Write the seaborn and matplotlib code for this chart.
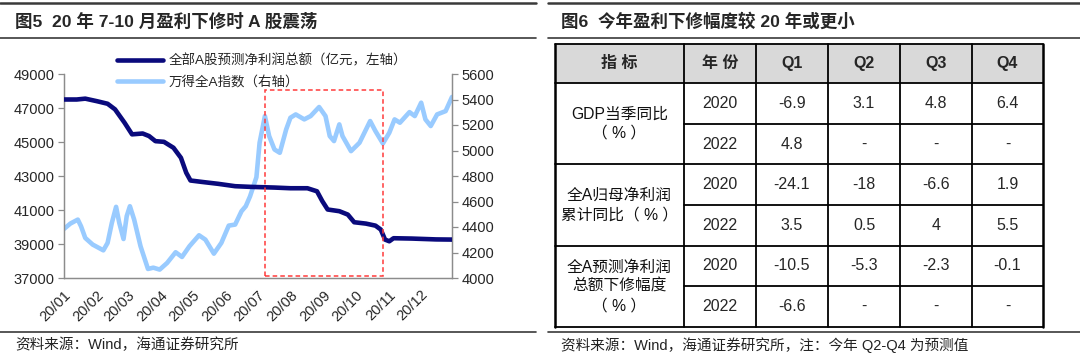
import matplotlib
matplotlib.use('Agg')
import matplotlib.pyplot as plt
import matplotlib.dates as mdates
from matplotlib.patches import Rectangle
from matplotlib.lines import Line2D
import seaborn as sns
import pandas as pd

# 全部A股预测净利润总额（亿元）
profit_dates = ['2020-01-01', '2020-01-13', '2020-01-21', '2020-02-01', '2020-02-11', '2020-02-18',
                '2020-02-27', '2020-03-05', '2020-03-15', '2020-03-21', '2020-03-27', '2020-04-04',
                '2020-04-13', '2020-04-20', '2020-04-25', '2020-04-29', '2020-05-10', '2020-05-25',
                '2020-06-10', '2020-06-25', '2020-07-17', '2020-08-01', '2020-08-17', '2020-08-26',
                '2020-08-31', '2020-09-05', '2020-09-16', '2020-09-24', '2020-09-30', '2020-10-11',
                '2020-10-20', '2020-10-25', '2020-10-29', '2020-11-02', '2020-11-06', '2020-11-23',
                '2020-12-16', '2020-12-31']
profit_values = [47500, 47500, 47550, 47400, 47250, 46920,
                 46130, 45450, 45500, 45350, 45050, 45010,
                 44660, 44070, 43190, 42735, 42650, 42540,
                 42400, 42360, 42320, 42280, 42280, 42100,
                 41520, 41030, 40930, 40730, 40280, 40200,
                 40080, 39850, 39260, 39160, 39340, 39320,
                 39270, 39260]

# 万得全A指数
index_dates = ['2020-01-01', '2020-01-07', '2020-01-14', '2020-01-17', '2020-01-21', '2020-01-28',
               '2020-02-07', '2020-02-11', '2020-02-15', '2020-02-19', '2020-02-22', '2020-02-26',
               '2020-02-29', '2020-03-03', '2020-03-07', '2020-03-13', '2020-03-20', '2020-03-25',
               '2020-03-31', '2020-04-07', '2020-04-15', '2020-04-21', '2020-04-28', '2020-05-07',
               '2020-05-13', '2020-05-21', '2020-05-28', '2020-06-04', '2020-06-10', '2020-06-16',
               '2020-06-20', '2020-06-24', '2020-06-30', '2020-07-03', '2020-07-08', '2020-07-12',
               '2020-07-17', '2020-07-22', '2020-07-28', '2020-08-01', '2020-08-06', '2020-08-14',
               '2020-08-20', '2020-08-28', '2020-09-03', '2020-09-07', '2020-09-11', '2020-09-16',
               '2020-09-19', '2020-09-27', '2020-10-05', '2020-10-15', '2020-10-20', '2020-10-27',
               '2020-11-02', '2020-11-07', '2020-11-12', '2020-11-21', '2020-11-26', '2020-12-02',
               '2020-12-06', '2020-12-11', '2020-12-17', '2020-12-25', '2020-12-31']
index_values = [4385, 4427, 4458, 4406, 4314, 4262,
                4217, 4275, 4432, 4558, 4432, 4306,
                4485, 4563, 4458, 4249, 4071, 4081,
                4066, 4118, 4202, 4165, 4249, 4335,
                4301, 4191, 4275, 4411, 4419, 4524,
                4563, 4640, 4790, 5061, 5270, 5113,
                5008, 4982, 5165, 5257, 5283, 5244,
                5270, 5341, 5270, 5113, 5074, 5205,
                5113, 4995, 5061, 5231, 5152, 5055,
                5139, 5244, 5218, 5301, 5270, 5375,
                5244, 5192, 5283, 5309, 5420]

# 表格
table_header = ['指 标', '年 份', 'Q1', 'Q2', 'Q3', 'Q4']
table_groups = ['GDP当季同比\n（ % ）', '全A归母净利润\n累计同比（ % ）', '全A预测净利润\n总额下修幅度\n（ % ）']
table_years = ['2020', '2022']
gdp_2020 = ['-6.9', '3.1', '4.8', '6.4']
gdp_2022 = ['4.8', '-', '-', '-']
np_2020 = ['-24.1', '-18', '-6.6', '1.9']
np_2022 = ['3.5', '0.5', '4', '5.5']
rev_2020 = ['-10.5', '-5.3', '-2.3', '-0.1']
rev_2022 = ['-6.6', '-', '-', '-']

sns.set_style('white')
plt.rcParams['font.family'] = ['Liberation Sans', 'Noto Sans CJK SC']

df_profit = pd.DataFrame({'date': pd.to_datetime(profit_dates), 'value': profit_values})
df_index = pd.DataFrame({'date': pd.to_datetime(index_dates), 'value': index_values})

fig = plt.figure(figsize=(10.8, 3.56), dpi=100)
W, H = 1080, 356
ax = fig.add_axes([64 / W, 1 - 278 / H, 388 / W, 204 / H])
ax2 = ax.twinx()

navy = '#0a0a7c'
light = '#99cbff'
sns.lineplot(data=df_profit, x='date', y='value', ax=ax, color=navy, lw=3.3,
             solid_capstyle='round', solid_joinstyle='round', zorder=3)
sns.lineplot(data=df_index, x='date', y='value', ax=ax2, color=light, lw=3.3,
             solid_capstyle='round', solid_joinstyle='round', zorder=2)
ax.set_zorder(ax2.get_zorder() + 1)
ax.patch.set_visible(False)

ax.set_xlim(pd.Timestamp('2020-01-01'), pd.Timestamp('2020-12-31'))
ax.set_ylim(37000, 49000)
ax.set_yticks(range(37000, 49001, 2000))
ax2.set_ylim(4000, 5600)
ax2.set_yticks(range(4000, 5601, 200))
ax.xaxis.set_major_locator(mdates.MonthLocator())
ax.xaxis.set_major_formatter(mdates.DateFormatter('%y/%m'))
for a in (ax, ax2):
    a.set_xlabel('')
    a.set_ylabel('')
    a.spines['top'].set_visible(False)
    for s in ('left', 'right', 'bottom'):
        a.spines[s].set_color('#8c8c8c')
        a.spines[s].set_linewidth(0.9)
    a.tick_params(axis='both', direction='out', length=4, width=0.9, color='#8c8c8c',
                  labelsize=10.5, pad=3)
for lab in ax.get_xticklabels():
    lab.set_rotation(45)
    lab.set_ha('right')
    lab.set_rotation_mode('anchor')

# 红色虚线框
x0 = mdates.date2num(pd.Timestamp('2020-07-08'))
x1 = mdates.date2num(pd.Timestamp('2020-10-27'))
ax.add_patch(Rectangle((x0, 37100), x1 - x0, 48050 - 37100, fill=False,
                       edgecolor='#ff3b3b', lw=1.1, ls=(0, (3, 2)), zorder=5, clip_on=False))

handles = [Line2D([], [], color=navy, lw=3.3), Line2D([], [], color=light, lw=3.3)]
leg = ax.legend(handles, ['全部A股预测净利润总额（亿元，左轴）', '万得全A指数（右轴）'],
                loc='upper center', bbox_to_anchor=(0.51, 1.155), frameon=False,
                fontsize=9.7, handlelength=3.4, handletextpad=0.4, labelspacing=0.55)

# 装饰：标题、横线、来源、表格
deco = fig.add_axes([0, 0, 1, 1])
deco.set_xlim(0, W)
deco.set_ylim(H, 0)
deco.axis('off')
deco.patch.set_visible(False)

for (xa, xb) in ((0, 536), (548, 1080)):
    deco.plot([xa, xb], [3, 3], color='#3a3a3a', lw=1.8)
    deco.plot([xa, xb], [38, 38], color='#3a3a3a', lw=1.2)
    deco.plot([xa, xb], [332, 332], color='#3a3a3a', lw=1.2)

deco.text(15, 21, '图5  20 年 7-10 月盈利下修时 A 股震荡', fontsize=12.6, fontweight='bold',
          va='center', ha='left')
deco.text(561, 21, '图6  今年盈利下修幅度较 20 年或更小', fontsize=12.6, fontweight='bold',
          va='center', ha='left')
deco.text(15, 345, '资料来源：Wind，海通证券研究所', fontsize=10.5, va='center', ha='left',
          color='#222222')
deco.text(561, 345, '资料来源：Wind，海通证券研究所，注：今年 Q2-Q4 为预测值', fontsize=10.5,
          va='center', ha='left', color='#222222')

col_x = [555, 684, 756, 828, 900, 972, 1043]
row_y = [44.3, 83.3, 124.3, 164.3, 205, 246, 286, 326.7]

deco.add_patch(Rectangle((col_x[0], row_y[0]), col_x[-1] - col_x[0], row_y[1] - row_y[0],
                         facecolor='#d9d9d9', edgecolor='none', zorder=1))
# 横线
for i, y in enumerate(row_y):
    if i in (2, 4, 6):
        deco.plot([col_x[1], col_x[-1]], [y, y], color='black', lw=1.3, zorder=3)
    else:
        deco.plot([col_x[0], col_x[-1]], [y, y], color='black', lw=1.3, zorder=3)
# 竖线
for j, x in enumerate(col_x):
    lw = 1.8 if j in (0, len(col_x) - 1) else 1.3
    deco.plot([x, x], [row_y[0], row_y[-1]], color='black', lw=lw, zorder=3)

cx = [(col_x[j] + col_x[j + 1]) / 2 for j in range(6)]
for j, h in enumerate(table_header):
    deco.text(cx[j], (row_y[0] + row_y[1]) / 2, h, ha='center', va='center',
              fontsize=11.5, fontweight='bold', zorder=4)

rows = [gdp_2020, gdp_2022, np_2020, np_2022, rev_2020, rev_2022]
for g, name in enumerate(table_groups):
    yc = (row_y[1 + 2 * g] + row_y[3 + 2 * g]) / 2
    deco.text(cx[0], yc, name, ha='center', va='center', fontsize=11.3,
              linespacing=1.35, color='#111111', zorder=4)
for r, vals in enumerate(rows):
    yc = (row_y[1 + r] + row_y[2 + r]) / 2
    deco.text(cx[1], yc, table_years[r % 2], ha='center', va='center', fontsize=11.5, zorder=4)
    for j, v in enumerate(vals):
        deco.text(cx[2 + j], yc, v, ha='center', va='center', fontsize=11.5, zorder=4)

fig.savefig('out.png', dpi=100)
